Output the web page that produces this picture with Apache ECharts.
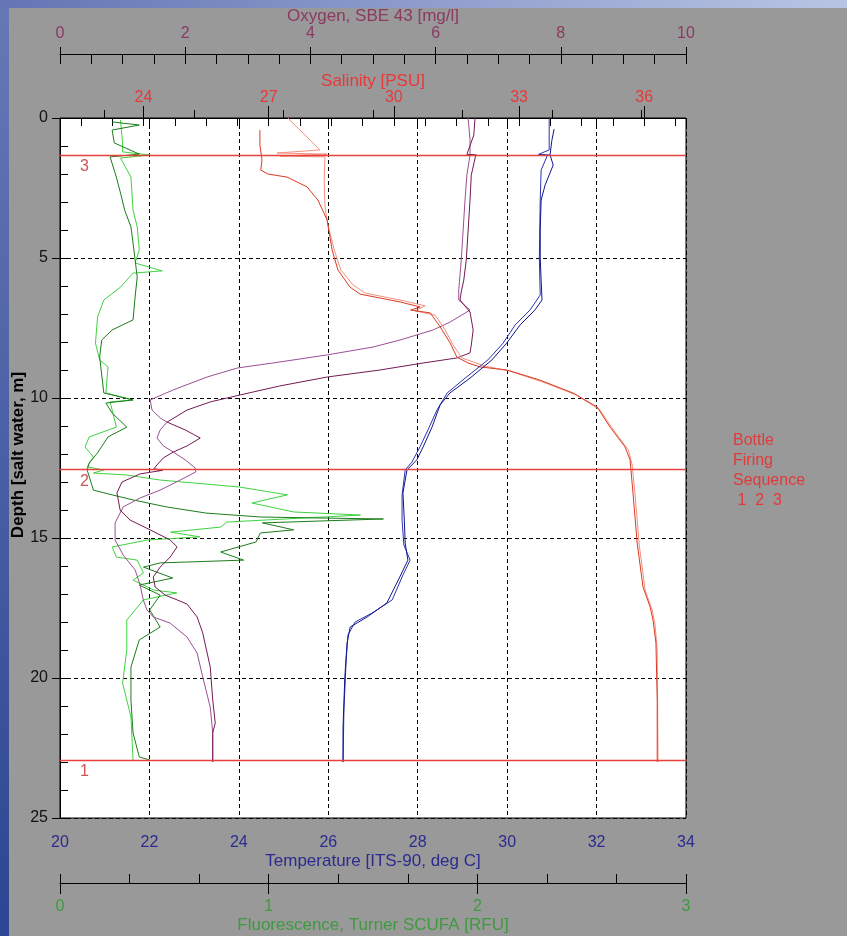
<!DOCTYPE html>
<html><head><meta charset="utf-8">
<script src="https://cdn.jsdelivr.net/npm/echarts@6/dist/echarts.min.js"></script>
<style>html,body{margin:0;padding:0;background:#999999;}#c{width:847px;height:936px;}</style>
</head><body><div id="c"></div>
<script>
// ---------- DATA (depth in m, values in axis units) ----------
const tempA_depth = [0.4,0.8,1.32,1.68,2.39,2.93,4.0,5.0,5.79,6.5,6.86,7.39,8.04,8.64,9.29,9.82,10.25,11.04,11.75,12.21,12.57,13.39,14.36,15.18,15.79,16.39,17.32,17.82,18.18,18.75,19.96,21.75,23.0];
const tempA_val   = [31.05,31.0,30.96,31.03,30.85,30.76,30.74,30.74,30.76,30.78,30.62,30.29,29.99,29.66,29.17,28.72,28.50,28.32,28.12,27.98,27.76,27.67,27.70,27.72,27.78,27.60,27.31,26.87,26.49,26.42,26.37,26.33,26.33];
const tempB_depth = [0,1.14,1.3,1.33,1.31,1.34,1.86,2.93,5.0,6.32,6.86,7.39,8.04,8.64,9.29,9.82,10.43,11.14,11.75,12.29,12.57,13.46,14.36,15.25,15.79,16.32,17.21,17.68,18.0,18.46,19.36,21.14,23.0];
const tempB_val   = [30.94,30.94,30.70,30.96,30.72,30.90,30.76,30.74,30.72,30.74,30.51,30.18,29.91,29.57,29.06,28.66,28.43,28.23,28.05,27.87,27.72,27.65,27.65,27.69,27.83,27.67,27.43,26.98,26.60,26.44,26.40,26.35,26.33];

const salA_depth = [0.43,0.96,1.5,1.86,2.0,2.11,2.46,2.93,3.64,4.71,5.43,6.04,6.29,6.57,6.75,6.86,6.96,7.46,8.04,8.54,8.75,8.89,9.0,9.36,9.82,10.32,11.04,11.75,12.21,13.39,15.18,16.75,17.46,17.93,18.75,20.79,23.0];
const salA_val   = [26.79,26.79,26.84,26.81,26.98,27.44,27.92,28.18,28.40,28.52,28.66,28.95,29.19,30.15,30.63,30.40,30.87,31.11,31.35,31.51,31.78,32.06,32.71,33.50,34.29,34.87,35.18,35.54,35.66,35.73,35.83,35.97,36.14,36.21,36.28,36.31,36.31];
const salB_depth = [0,0.43,0.96,1.14,1.25,1.29,1.36,1.39,2.21,3.18,3.82,4.71,5.43,5.96,6.25,6.54,6.71,6.89,7.04,7.57,8.11,8.57,8.86,9.04,9.43,9.89,10.43,11.14,11.86,12.39,13.46,15.25,16.86,17.57,18.11,19.0,23.0];
const salB_val   = [27.46,27.75,28.11,28.23,27.20,28.40,27.27,28.35,28.33,28.35,28.42,28.57,28.73,29.02,29.31,30.27,30.75,30.51,30.99,31.23,31.42,31.63,32.18,32.78,33.57,34.37,34.94,35.26,35.62,35.71,35.78,35.88,36.02,36.19,36.26,36.31,36.33];

const oxyA_depth = [0,0.61,1.30,1.33,1.31,1.34,2.04,2.93,4.0,5.07,5.79,6.21,6.5,6.93,7.57,8.11,8.39,8.57,8.75,9.0,9.25,9.57,9.89,10.14,10.43,10.86,11.14,11.43,11.71,11.93,12.14,12.39,12.53,12.58,12.55,12.59,12.71,13.0,13.39,14.0,14.36,14.71,15.07,15.32,15.68,16.04,16.39,16.75,17.04,17.21,17.36,17.82,18.39,19.61,20.79,21.61,21.96,23.0];
const oxyA_val   = [6.63,6.61,6.50,6.66,6.52,6.64,6.57,6.55,6.52,6.49,6.45,6.41,6.39,6.55,6.60,6.57,6.55,6.34,5.80,5.11,4.27,3.51,2.88,2.40,2.03,1.71,2.00,2.24,2.03,1.81,1.65,1.55,1.50,1.64,1.52,1.62,1.28,0.99,0.91,0.96,1.12,1.44,1.76,1.87,1.76,1.60,1.49,1.52,1.68,1.87,2.03,2.19,2.28,2.40,2.44,2.48,2.44,2.44];
const oxyB_depth = [0,0.79,1.32,2.04,2.93,4.0,5.07,6.14,6.5,6.86,7.29,7.57,7.93,8.18,8.46,8.75,8.93,9.25,9.71,10.07,10.43,10.71,10.86,11.14,11.43,11.71,11.93,12.21,12.5,12.64,12.93,13.29,13.57,13.89,14.46,15.07,15.61,16.14,16.68,17.21,17.57,17.82,18.04,18.54,19.11,19.96,21.04,21.96,23.0];
const oxyB_val   = [6.52,6.55,6.55,6.50,6.47,6.44,6.41,6.37,6.37,6.55,6.23,5.96,5.43,5.00,4.27,3.40,2.83,2.35,1.81,1.44,1.47,1.60,1.71,1.60,1.55,1.65,1.81,2.00,2.16,2.17,1.92,1.60,1.28,1.01,0.88,0.88,1.01,1.20,1.28,1.33,1.39,1.49,1.76,2.03,2.19,2.28,2.40,2.44,2.44];

const fluLight_depth = [0.07,0.89,1.21,1.32,1.43,2.11,3.29,3.89,4.71,5.18,5.46,5.54,6.04,6.5,7.11,8.04,8.64,8.89,9.82,10.07,10.14,10.43,11.04,11.39,11.75,12.11,12.46,12.57,12.68,12.75,12.93,13.18,13.46,13.75,14.07,14.18,14.43,14.61,14.79,14.96,15.07,15.32,15.68,15.79,16.25,16.5,16.86,16.96,17.21,17.93,19.0,20.18,21.39,22.93];
const fluLight_val   = [0.29,0.30,0.30,0.43,0.29,0.34,0.35,0.37,0.38,0.36,0.49,0.35,0.29,0.21,0.18,0.17,0.19,0.23,0.22,0.35,0.24,0.25,0.27,0.14,0.12,0.16,0.13,0.21,0.16,0.32,0.48,0.86,1.09,0.92,1.12,1.44,0.80,0.77,0.53,0.67,0.42,0.25,0.27,0.37,0.40,0.35,0.45,0.56,0.40,0.32,0.32,0.30,0.34,0.35];
const fluDark_depth = [0.14,0.25,0.43,0.89,1.29,1.39,2.11,2.68,3.29,3.89,4.46,5.07,5.68,6.39,7.21,7.57,7.93,8.54,9.82,10.07,10.18,10.54,11.04,11.39,11.96,12.32,12.57,13.29,13.46,13.64,13.89,14.11,14.25,14.29,14.32,14.46,14.71,14.82,15.14,15.5,15.79,15.89,16.04,16.43,16.68,17.04,17.57,18.18,18.64,19.61,20.79,21.96,22.82,22.93];
const fluDark_val   = [0.25,0.38,0.25,0.26,0.38,0.24,0.27,0.29,0.31,0.34,0.35,0.36,0.37,0.36,0.35,0.25,0.20,0.19,0.21,0.35,0.22,0.25,0.32,0.23,0.18,0.14,0.13,0.16,0.25,0.35,0.51,0.70,0.96,1.28,1.55,0.97,1.12,0.96,0.94,0.77,0.88,0.48,0.40,0.54,0.38,0.48,0.43,0.48,0.38,0.34,0.34,0.35,0.38,0.43];

const bottleDepths = [22.93, 12.55, 1.32];
const bottleLabels = ['1', '2', '3'];

const salMajorTicks = [24, 27, 30, 33, 36];
const salMinorTicks = [22.5,23.25,24,24.75,25.5,26.25,27,27.75,28.5,29.25,30,30.75,31.5,32.25,33,33.75,34.5,35.25,36,36.75];
const tempMinorTicks = [21, 23, 25, 27, 29, 31, 33];
const fluMinorTicks = [0, 1/3, 2/3, 1, 4/3, 5/3, 2, 7/3, 8/3, 3];

// ---------- CHART ----------
const FONT = 'Liberation Sans, Arial, sans-serif';
const zip = (d, v) => d.map((y, i) => [v[i], y]);
const chart = echarts.init(document.getElementById('c'), null, {renderer: 'canvas'});

const blk = {color: '#000', width: 1};
const hidden = {show: false};

function lineSeries(name, xi, depth, vals, color, extra) {
  return Object.assign({
    name, type: 'line', xAxisIndex: xi, yAxisIndex: 0,
    data: zip(depth, vals), showSymbol: false, symbol: 'none',
    lineStyle: {width: 1, color}, itemStyle: {color}, silent: true
  }, extra || {});
}

const option = {
  animation: false,
  backgroundColor: '#999999',
  grid: {left: 60, top: 118, width: 626, height: 700, outerBoundsMode: 'none', containLabel: false,
         show: true, backgroundColor: '#ffffff', borderColor: '#000', borderWidth: 1},
  graphic: [
    {type: 'rect', shape: {x: 0, y: 0, width: 9, height: 936}, style: {fill: new echarts.graphic.LinearGradient(0, 0, 0, 1, [{offset: 0, color: '#6679b6'}, {offset: 1, color: '#2d4592'}])}},
    {type: 'rect', shape: {x: 0, y: 0, width: 847, height: 8}, style: {fill: new echarts.graphic.LinearGradient(0, 0, 1, 0, [{offset: 0, color: '#6375b4'}, {offset: 1, color: '#b9c5e4'}])}},
    {type: 'text', x: 18, y: 455, rotation: Math.PI / 2, style: {text: 'Depth [salt water, m]', font: 'bold 17px ' + FONT, fill: '#000', align: 'center', verticalAlign: 'middle'}},
    {type: 'text', x: 733, y: 431, style: {text: 'Bottle\nFiring\nSequence\n 1  2  3', font: '16px ' + FONT, fill: '#e23a3a', lineHeight: 20}}
  ],
  xAxis: [
    { // 0 temperature
      type: 'value', position: 'bottom', min: 20, max: 34, interval: 2,
      axisLine: {show: true, lineStyle: blk}, axisTick: {show: true, length: 8, lineStyle: blk},
      axisLabel: {color: '#2b2b8f', fontSize: 16, fontFamily: FONT, margin: 17},
      splitLine: {show: true, lineStyle: {color: '#000', width: 1, type: [4, 3]}},
      name: 'Temperature [ITS-90, deg C]', nameLocation: 'middle', nameGap: 35, nameMoveOverlap: false,
      nameTextStyle: {color: '#2b2b8f', fontSize: 17, fontFamily: FONT}
    },
    { // 1 temperature minor ticks inside
      type: 'value', position: 'bottom', min: 20, max: 34,
      axisLine: hidden, axisLabel: hidden, splitLine: hidden,
      axisTick: {show: true, inside: true, length: 8, customValues: tempMinorTicks, lineStyle: blk}
    },
    { // 2 salinity
      type: 'value', position: 'top', min: 22, max: 37,
      axisLine: {show: true, lineStyle: blk},
      axisTick: {show: true, length: 12, customValues: salMajorTicks, lineStyle: blk},
      axisLabel: {customValues: salMajorTicks, color: '#e8383a', fontSize: 16, fontFamily: FONT, margin: 12},
      splitLine: hidden,
      name: 'Salinity [PSU]', nameLocation: 'middle', nameGap: 28, nameMoveOverlap: false,
      nameTextStyle: {color: '#e8383a', fontSize: 17, fontFamily: FONT}
    },
    { // 3 salinity minor inside
      type: 'value', position: 'top', min: 22, max: 37,
      axisLine: hidden, axisLabel: hidden, splitLine: hidden,
      axisTick: {show: true, inside: true, length: 8, customValues: salMinorTicks, lineStyle: blk}
    },
    { // 4 oxygen
      type: 'value', position: 'top', offset: 64, min: 0, max: 10, interval: 2,
      axisLine: {show: true, lineStyle: blk},
      axisTick: {show: true, length: 7, lineStyle: blk},
      axisLabel: {color: '#8b3a62', fontSize: 16, fontFamily: FONT, margin: 12},
      splitLine: hidden,
      name: 'Oxygen, SBE 43 [mg/l]', nameLocation: 'middle', nameGap: 29, nameMoveOverlap: false,
      nameTextStyle: {color: '#8b3a62', fontSize: 17, fontFamily: FONT}
    },
    { // 5 oxygen minor
      type: 'value', position: 'top', offset: 64, min: 0, max: 10, interval: 0.5,
      axisLine: hidden, axisLabel: hidden, splitLine: hidden,
      axisTick: {show: true, inside: true, length: 10, lineStyle: blk}
    },
    { // 6 fluorescence
      type: 'value', position: 'bottom', offset: 65, min: 0, max: 3, interval: 1,
      axisLine: {show: true, lineStyle: blk},
      axisTick: {show: true, length: 11, lineStyle: blk},
      axisLabel: {color: '#3f9a3f', fontSize: 16, fontFamily: FONT, margin: 16},
      splitLine: hidden,
      name: 'Fluorescence, Turner SCUFA [RFU]', nameLocation: 'middle', nameGap: 34, nameMoveOverlap: false,
      nameTextStyle: {color: '#3f9a3f', fontSize: 17, fontFamily: FONT}
    },
    { // 7 fluorescence minor
      type: 'value', position: 'bottom', offset: 65, min: 0, max: 3,
      axisLine: hidden, axisLabel: hidden, splitLine: hidden,
      axisTick: {show: true, inside: true, length: 9, customValues: fluMinorTicks, lineStyle: blk}
    }
  ],
  yAxis: [
    {
      type: 'value', inverse: true, min: 0, max: 25, interval: 5, position: 'left',
      axisLine: {show: true, lineStyle: blk}, axisTick: {show: true, length: 8, lineStyle: blk},
      axisLabel: {color: '#111', fontSize: 16, fontFamily: FONT, margin: 12},
      splitLine: {show: true, lineStyle: {color: '#000', width: 1, type: [4, 3]}}
    },
    {
      type: 'value', inverse: true, min: 0, max: 25, interval: 1, position: 'left',
      axisLine: hidden, axisLabel: hidden, splitLine: hidden,
      axisTick: {show: true, inside: true, length: 8, lineStyle: blk}
    }
  ],
  series: [
    lineSeries('Fluorescence light', 6, fluLight_depth, fluLight_val, '#3fd23f'),
    lineSeries('Fluorescence dark', 6, fluDark_depth, fluDark_val, '#1b7d1b'),
    lineSeries('Oxygen B', 4, oxyB_depth, oxyB_val, '#9c4f94'),
    lineSeries('Oxygen A', 4, oxyA_depth, oxyA_val, '#741a55'),
    lineSeries('Salinity B', 2, salB_depth, salB_val, '#f2907f'),
    lineSeries('Salinity A', 2, salA_depth, salA_val, '#dc3a22', {
      markLine: {
        silent: true, symbol: ['none', 'none'], animation: false,
        lineStyle: {color: '#e8403a', type: 'solid', width: 1.3},
        emphasis: {disabled: true},
        label: {show: true, position: 'insideStartBottom', color: '#cf5555', fontSize: 16, fontFamily: FONT, distance: [20, 4]},
        data: bottleDepths.map((d, i) => ({yAxis: d, label: {formatter: bottleLabels[i]}}))
      }
    }),
    lineSeries('Temperature B', 0, tempB_depth, tempB_val, '#2a34b0'),
    lineSeries('Temperature A', 0, tempA_depth, tempA_val, '#10168a')
  ]
};
chart.setOption(option);
</script>
</body></html>
